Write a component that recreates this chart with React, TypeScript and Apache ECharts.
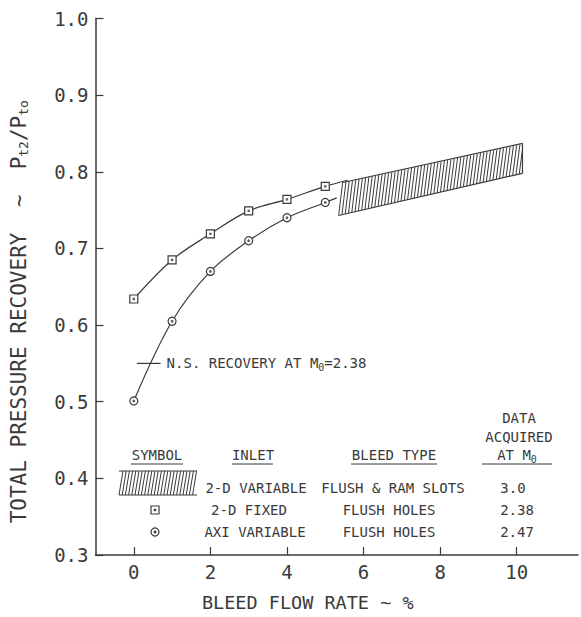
import React, { useEffect, useRef } from "react";
import * as echarts from "echarts";

// ---- data ----
const bleedRate = [0, 1, 2, 3, 4, 5];
const fixed2D = [0.634, 0.685, 0.719, 0.749, 0.764, 0.781];
const axiVariable = [0.501, 0.605, 0.67, 0.71, 0.74, 0.76];
const fixed2DTail = [5.58, 0.789];
const axiTail = [5.3, 0.766];
const bandX = [5.35, 10.15];
const bandLow = [0.743, 0.798];
const bandHigh = [0.786, 0.837];
const nsRecoveryX = [0.08, 0.7];
const nsRecoveryValue = 0.55;
const xTickValues = [0, 2, 4, 6, 8, 10];

const legendInlets = ["2-D VARIABLE", "2-D FIXED", "AXI VARIABLE"];
const legendBleed = ["FLUSH & RAM SLOTS", "FLUSH HOLES", "FLUSH HOLES"];
const legendMach = ["3.0", "2.38", "2.47"];

const FONT = "'DejaVu Sans Mono', 'Liberation Mono', monospace";
const INK = "#3a3a3a";

export default function App() {
  const ref = useRef<HTMLDivElement>(null);

  useEffect(() => {
    if (!ref.current) return;
    const chart = echarts.init(ref.current, null, { renderer: "svg" });

    const txt = (x: number, y: number, text: string, extra: any = {}) => ({
      type: "text",
      x,
      y,
      style: {
        text,
        fontFamily: FONT,
        fontSize: 14,
        fill: INK,
        align: "center",
        verticalAlign: "middle",
        ...extra,
      },
    });
    const ln = (x1: number, y1: number, x2: number, y2: number, w = 1.2) => ({
      type: "line",
      shape: { x1, y1, x2, y2 },
      style: { stroke: INK, lineWidth: w },
    });

    const graphics: any[] = [];
    // header
    graphics.push(txt(519, 418, "DATA"));
    graphics.push(txt(519, 437, "ACQUIRED"));
    graphics.push(
      txt(517, 455, "AT M{s|0}", {
        rich: { s: { fontSize: 10, fontFamily: FONT, fill: INK, padding: [8, 0, 0, 0] } },
      })
    );
    graphics.push(txt(157, 455, "SYMBOL"));
    graphics.push(txt(253, 455, "INLET"));
    graphics.push(txt(394, 455, "BLEED TYPE"));
    graphics.push(ln(131, 464, 183, 464, 1));
    graphics.push(ln(232, 464, 273, 464, 1));
    graphics.push(ln(351, 464, 437, 464, 1));
    graphics.push(ln(482, 464, 552, 464, 1));
    // rows
    const rowY = [488, 510, 532];
    const inletX = [256, 249, 255];
    const bleedX = [393, 389, 389];
    const machX = [513, 517, 517];
    rowY.forEach((y, i) => {
      graphics.push(txt(inletX[i], y, legendInlets[i]));
      graphics.push(txt(bleedX[i], y, legendBleed[i]));
      graphics.push(txt(machX[i], y, legendMach[i]));
    });
    // hatched legend symbol
    graphics.push(ln(119, 471, 197, 471, 1));
    graphics.push(ln(119, 495, 197, 495, 1));
    for (let x = 119; x <= 193; x += 3.2) {
      graphics.push(ln(x, 495, x + 4, 471, 1));
    }
    // square & circle legend symbols
    graphics.push({
      type: "rect",
      shape: { x: 151, y: 506, width: 8, height: 8 },
      style: { fill: "#fff", stroke: INK, lineWidth: 1.2 },
    });
    graphics.push({
      type: "rect",
      shape: { x: 153.8, y: 508.8, width: 2.4, height: 2.4 },
      style: { fill: INK },
    });
    graphics.push({
      type: "circle",
      shape: { cx: 155, cy: 532, r: 4 },
      style: { fill: "#fff", stroke: INK, lineWidth: 1.2 },
    });
    graphics.push({
      type: "circle",
      shape: { cx: 155, cy: 532, r: 1.4 },
      style: { fill: INK },
    });

    const pts = (ys: number[]) => bleedRate.map((x, i) => [x, ys[i]]);

    const option: any = {
      animation: false,
      backgroundColor: "#fff",
      grid: { left: 95, right: 3, top: 18.5, bottom: 56, containLabel: false },
      xAxis: {
        type: "value",
        min: -1,
        max: 11.6,
        name: "BLEED FLOW RATE ~ %",
        nameLocation: "middle",
        nameGap: 38,
        nameTextStyle: {
          fontFamily: FONT,
          fontSize: 18.5,
          color: INK,
          padding: [0, 58, 0, 0],
        },
        axisLine: { onZero: false, lineStyle: { color: INK, width: 1.5 } },
        axisTick: {
          inside: true,
          length: 8,
          customValues: xTickValues,
          lineStyle: { color: INK, width: 1.2 },
        },
        axisLabel: {
          customValues: xTickValues,
          fontFamily: FONT,
          fontSize: 19,
          color: INK,
          margin: 7,
        },
        splitLine: { show: false },
      },
      yAxis: {
        type: "value",
        min: 0.3,
        max: 1.0,
        interval: 0.1,
        name: "TOTAL PRESSURE RECOVERY  ~  P{s|t2}/P{s|to}",
        nameLocation: "middle",
        nameRotate: 90,
        nameGap: 66,
        nameTextStyle: {
          fontFamily: FONT,
          fontSize: 21,
          color: INK,
          padding: [0, 50, 0, 0],
          rich: {
            s: { fontFamily: FONT, fontSize: 13, color: INK, padding: [9, 0, 0, 0] },
          },
        },
        axisLine: { onZero: false, lineStyle: { color: INK, width: 1.5 } },
        axisTick: { inside: true, length: 8, lineStyle: { color: INK, width: 1.2 } },
        axisLabel: {
          fontFamily: FONT,
          fontSize: 19,
          color: INK,
          margin: 7,
          formatter: (v: number) => v.toFixed(1),
        },
        splitLine: { show: false },
      },
      series: [
        {
          type: "custom",
          name: "2-D variable band",
          renderItem: (params: any, api: any) => {
            const bl = api.coord([api.value(0), api.value(1)]);
            const tl = api.coord([api.value(0), api.value(2)]);
            const br = api.coord([api.value(3), api.value(4)]);
            const tr = api.coord([api.value(3), api.value(5)]);
            const children: any[] = [];
            const slant = 4;
            const n = Math.round((br[0] - bl[0]) / 3.3);
            for (let i = 0; i <= n; i++) {
              const t = i / n;
              const bx = bl[0] + (br[0] - bl[0]) * t;
              const by = bl[1] + (br[1] - bl[1]) * t;
              let tx = tl[0] + (tr[0] - tl[0]) * t + slant;
              let ty = tl[1] + (tr[1] - tl[1]) * t;
              if (tx > tr[0]) {
                const k = (tr[0] - bx) / (tx - bx);
                tx = tr[0];
                ty = by + (ty - by) * k;
              }
              children.push({
                type: "line",
                shape: { x1: bx, y1: by, x2: tx, y2: ty },
                style: { stroke: INK, lineWidth: 1 },
              });
            }
            children.push({
              type: "line",
              shape: { x1: tl[0] + slant, y1: tl[1], x2: tr[0], y2: tr[1] },
              style: { stroke: INK, lineWidth: 1.2 },
            });
            children.push({
              type: "line",
              shape: { x1: bl[0], y1: bl[1], x2: br[0], y2: br[1] },
              style: { stroke: INK, lineWidth: 1.2 },
            });
            children.push({
              type: "line",
              shape: { x1: tr[0], y1: tr[1], x2: br[0], y2: br[1] },
              style: { stroke: INK, lineWidth: 1.2 },
            });
            return { type: "group", children };
          },
          encode: { x: [0, 3], y: [1, 2, 4, 5] },
          data: [[bandX[0], bandLow[0], bandHigh[0], bandX[1], bandLow[1], bandHigh[1]]],
          z: 1,
        },
        {
          type: "line",
          name: "2-D fixed",
          smooth: 0.35,
          symbol: "rect",
          symbolSize: 8,
          itemStyle: { color: "#fff", borderColor: INK, borderWidth: 1.2 },
          lineStyle: { color: INK, width: 1.2 },
          data: [...pts(fixed2D), { value: fixed2DTail, symbol: "none" }],
          z: 3,
        },
        {
          type: "scatter",
          symbol: "rect",
          symbolSize: 2.4,
          itemStyle: { color: INK },
          data: pts(fixed2D),
          z: 4,
        },
        {
          type: "line",
          name: "AXI variable",
          smooth: 0.35,
          symbol: "circle",
          symbolSize: 8,
          itemStyle: { color: "#fff", borderColor: INK, borderWidth: 1.2 },
          lineStyle: { color: INK, width: 1.2 },
          data: [...pts(axiVariable), { value: axiTail, symbol: "none" }],
          z: 3,
        },
        {
          type: "scatter",
          symbol: "circle",
          symbolSize: 2.8,
          itemStyle: { color: INK },
          data: pts(axiVariable),
          z: 4,
        },
        {
          type: "line",
          name: "N.S. recovery",
          symbol: "none",
          lineStyle: { color: INK, width: 1.2 },
          data: nsRecoveryX.map((x) => [x, nsRecoveryValue]),
          endLabel: {
            show: true,
            distance: 6,
            formatter: "N.S. RECOVERY AT M{s|0}=2.38",
            fontFamily: FONT,
            fontSize: 14,
            color: INK,
            rich: { s: { fontFamily: FONT, fontSize: 10, color: INK, padding: [8, 0, 0, 0] } },
          },
          z: 3,
        },
      ],
      graphic: graphics,
    };

    chart.setOption(option);
    return () => chart.dispose();
  }, []);

  return (
    <div
      ref={ref}
      style={{ position: "absolute", left: 0, top: 0, width: 581, height: 617, background: "#fff" }}
    />
  );
}
